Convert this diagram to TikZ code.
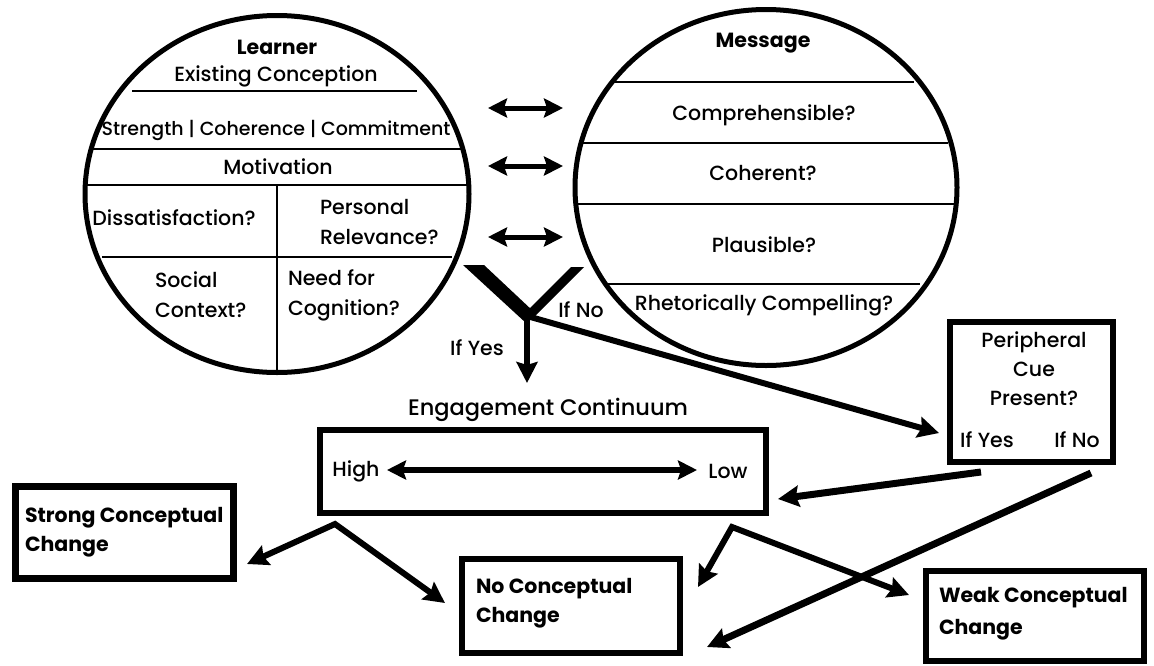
\documentclass[tikz,border=0pt]{standalone}
\usepackage{fontspec}
\setmainfont{Poppins Medium}[BoldFont={Poppins Bold}]
\usetikzlibrary{shapes.geometric,arrows.meta}
\begin{document}
\begin{tikzpicture}[x=1pt,y=-1pt,
  every node/.style={inner sep=0pt,outer sep=0pt},
  txt/.style={font=\fontsize{20.5}{30}\selectfont},
  btxt/.style={font=\fontsize{20.5}{29}\selectfont\bfseries},
  circ/.style={draw,ellipse,line width=5pt},
  box/.style={draw,rectangle,line width=6.5pt},
  sep/.style={line width=1.4pt},
  arr/.style={line width=6pt,-{Stealth[length=21pt,width=21pt,inset=3pt]}},
  dbl/.style={line width=5pt,{Stealth[length=19pt,width=19pt,inset=3pt]}-{Stealth[length=19pt,width=19pt,inset=3pt]}},
  fork/.style={line width=6pt,line join=miter,{Stealth[length=21pt,width=21pt,inset=3pt]}-{Stealth[length=21pt,width=21pt,inset=3pt]}}
]
\useasboundingbox (0,0) rectangle (1154,665);

% circles
\node[circ,minimum width=384pt,minimum height=357pt] (learner) at (277,194) {};
\node[circ,minimum width=382pt,minimum height=356pt] (message) at (766,187.5) {};

% learner separators
\draw[sep] (132,91) -- (417,91);
\draw[sep] (90,149) -- (464,149);
\draw[sep] (86,185) -- (468,185);
\draw[sep] (102,257) -- (452,257);
\draw[sep] (277,185) -- (277,371);

% message separators
\draw[sep] (612,82) -- (914,82);
\draw[sep] (582,143) -- (948,143);
\draw[sep] (577,204) -- (954,204);
\draw[sep] (606,284) -- (920,284);

% learner texts
\node[btxt] (tlearner) at (277,47) {Learner};
\node[txt] (texist) at (276,76) {Existing Conception};
\node[txt,font=\fontsize{19}{24}\selectfont] (tstr) at (276,130) {Strength | Coherence | Commitment};
\node[txt] (tmot) at (278,167) {Motivation};
\node[txt] (tdis) at (174,218) {Dissatisfaction?};
\node[txt,anchor=west,align=left] (tper) at (320,222) {Personal\\Relevance?};
\node[txt,anchor=west,align=left] (tsoc) at (155,295) {Social\\Context?};
\node[txt,anchor=west,align=left] (tneed) at (288,295) {Need for\\Cognition?};

% message texts
\node[btxt] (tmsg) at (763,43) {Message};
\node[txt] (tcomp) at (764,115) {Comprehensible?};
\node[txt] (tcoh) at (763,173) {Coherent?};
\node[txt] (tpla) at (764,245) {Plausible?};
\node[txt] (trhet) at (764,305) {Rhetorically Compelling?};

% double arrows between circles
\coordinate (a1l) at (488,108); \coordinate (a1r) at (563,108);
\coordinate (a2l) at (488,166); \coordinate (a2r) at (563,166);
\coordinate (a3l) at (488,237); \coordinate (a3r) at (563,237);
\draw[dbl] (a1l) -- (a1r);
\draw[dbl] (a2l) -- (a2r);
\draw[dbl] (a3l) -- (a3r);

% Y fork
\fill (463,265) -- (484,265) -- (533,311) -- (526,323) -- cycle;
\fill (571,267) -- (584,267) -- (533,318) -- (524,314) -- cycle;
\coordinate (yv) at (527,316);
\coordinate (ys) at (527,383);
\coordinate (yp) at (939,433);
\draw[arr] (yv) -- (ys);
\draw[arr] (yv) -- (yp);
\node[txt] (tifno) at (581,310) {If No};
\node[txt] (tifyes) at (477,348) {If Yes};

% engagement
\node[font=\fontsize{22.5}{26}\selectfont] (teng) at (548,410) {Engagement Continuum};
\node[box,minimum width=446pt,minimum height=83pt] (engage) at (543,471.5) {};
\node[txt] (thigh) at (356,471) {High};
\node[txt] (tlow) at (728,471) {Low};
\coordinate (hl) at (387,470); \coordinate (hr) at (697,470);
\draw[dbl,line width=6pt] (hl) -- (hr);

% peripheral
\node[box,minimum width=163pt,minimum height=140pt] (periph) at (1031.5,392) {};
\node[txt,align=center,font=\fontsize{20.5}{29}\selectfont] (tperiph) at (1034,369) {Peripheral\\Cue\\Present?};
\node[txt] (tpyes) at (987,440) {If Yes};
\node[txt] (tpno) at (1077,440) {If No};

% outcome boxes
\node[box,minimum width=218pt,minimum height=92pt] (strong) at (124.5,532.5) {};
\node[btxt,anchor=west,align=left] (tstrong) at (25,532.5) {Strong Conceptual\\Change};
\node[box,minimum width=218pt,minimum height=94pt] (nochg) at (571,606) {};
\node[btxt,anchor=west,align=left] (tno) at (476,603.5) {No Conceptual\\Change};
\node[box,minimum width=218pt,minimum height=90pt] (weak) at (1035,616) {};
\node[btxt,anchor=west,align=left,font=\fontsize{20.5}{32}\selectfont\bfseries] (tweak) at (939,614) {Weak Conceptual\\Change};

% peripheral outcomes
\coordinate (pys) at (981,472); \coordinate (pyt) at (778,499);
\coordinate (pns) at (1091,473); \coordinate (pnt) at (707,647);
\draw[arr,line width=7pt] (pys) -- (pyt);
\draw[arr,line width=7pt] (pns) -- (pnt);

% engagement outcomes
\coordinate (fl) at (335,524); \coordinate (fls) at (247,564); \coordinate (fln) at (445,603);
\coordinate (fr) at (732,527); \coordinate (frn) at (698,587); \coordinate (frw) at (909,595);
\draw[fork] (fls) -- (fl) -- (fln);
\draw[fork] (frn) -- (fr) -- (frw);
\end{tikzpicture}
\end{document}
